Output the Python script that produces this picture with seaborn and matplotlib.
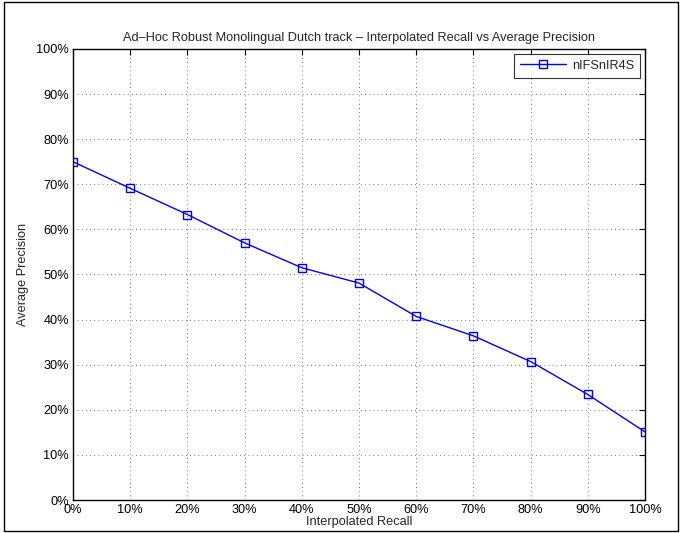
import numpy as np
import pandas as pd
import matplotlib
matplotlib.use("Agg")
import matplotlib.pyplot as plt
import seaborn as sns
from matplotlib.ticker import FuncFormatter
from matplotlib.patches import Rectangle

sns.set_style("white")
plt.rcParams['font.family'] = ['Liberation Sans', 'DejaVu Sans']

recall = [0, 10, 20, 30, 40, 50, 60, 70, 80, 90, 100]
precision = [75.0, 69.1, 63.3, 57.0, 51.5, 48.1, 40.7, 36.4, 30.7, 23.4, 15.1]
run_name = "nIFSnIR4S"

df = pd.DataFrame({"recall": recall, "precision": precision})

FS = 9.2

fig = plt.figure(figsize=(6.85, 5.33), dpi=100)
ax = fig.add_axes([0.1066, 0.0619, 0.8350, 0.8462])

sns.lineplot(data=df, x="recall", y="precision", ax=ax, color="#0000ff",
             marker="s", markersize=5.5, markerfacecolor="none",
             markeredgecolor="#0000ff", markeredgewidth=1.0,
             linewidth=1.0, label=run_name)

ax.set_xlim(0, 100)
ax.set_ylim(0, 100)
ax.set_xticks(np.arange(0, 101, 10))
ax.set_yticks(np.arange(0, 101, 10))
pct = FuncFormatter(lambda v, p: f"{int(v)}%")
ax.xaxis.set_major_formatter(pct)
ax.yaxis.set_major_formatter(pct)
ax.grid(True, linestyle=(0, (1, 4)), color="#555555", linewidth=0.6)
ax.tick_params(direction="in", length=4, width=0.8, top=True, right=True,
               labelsize=FS, colors="black", pad=3)
for s in ax.spines.values():
    s.set_color("black")
    s.set_linewidth(1.0)

ax.set_xlabel("Interpolated Recall", fontsize=FS, labelpad=0)
ax.set_ylabel("Average Precision", fontsize=FS, labelpad=5)
ax.set_title("Ad\u2013Hoc Robust Monolingual Dutch track \u2013 Interpolated Recall vs Average Precision",
             fontsize=FS, pad=6)

leg = ax.legend(loc="upper right", fontsize=FS, frameon=True, fancybox=False,
                borderaxespad=0.4, handlelength=3.6, borderpad=0.45,
                handletextpad=0.5)
leg.get_frame().set_edgecolor("black")
leg.get_frame().set_linewidth(0.8)

fig.patches.append(Rectangle((0.006, 0.004), 0.984, 0.992, transform=fig.transFigure,
                             fill=False, edgecolor="black", linewidth=1.0))

fig.savefig("out.png", dpi=100)
